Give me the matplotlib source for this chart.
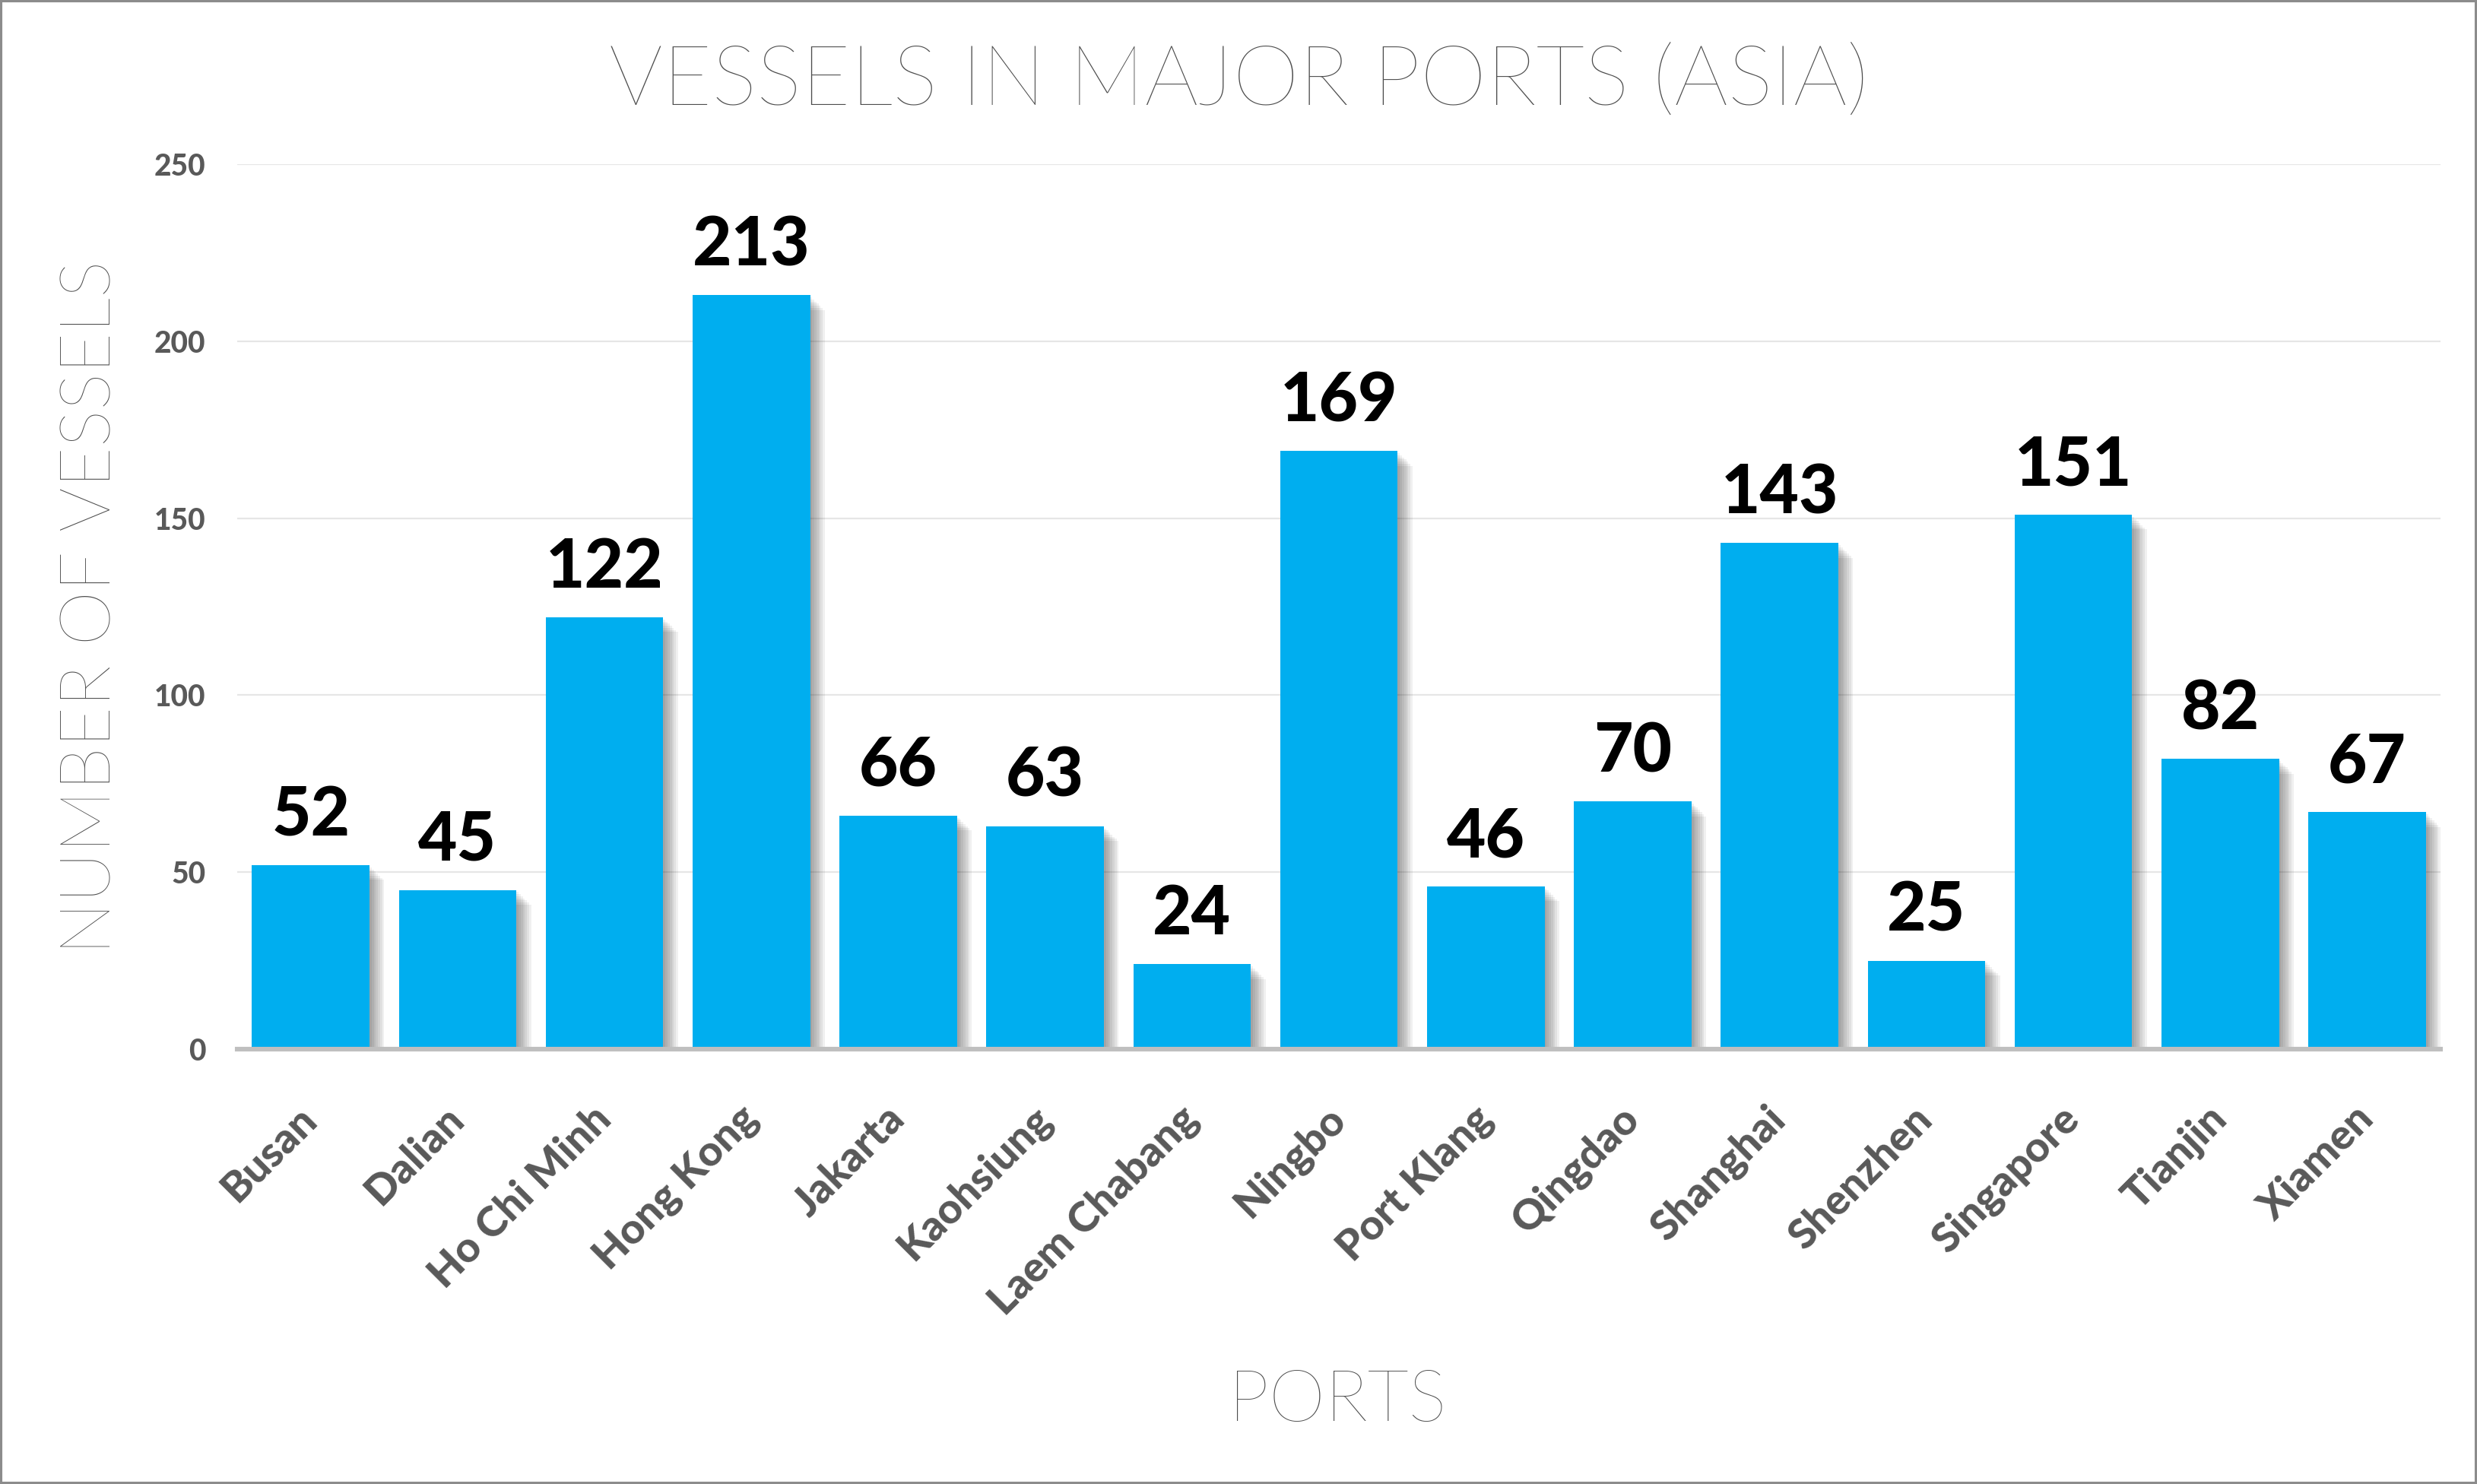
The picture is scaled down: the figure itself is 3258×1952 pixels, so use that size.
import matplotlib.pyplot as plt
import matplotlib.patheffects as pe
from matplotlib.patches import Rectangle

ports = ["Busan", "Dalian", "Ho Chi Minh", "Hong Kong", "Jakarta", "Kaohsiung",
         "Laem Chabang", "Ningbo", "Port Klang", "Qingdao", "Shanghai",
         "Shenzhen", "Singapore", "Tianjin", "Xiamen"]
vessels = [52, 45, 122, 213, 66, 63, 24, 169, 46, 70, 143, 25, 151, 82, 67]
y_ticks = [0, 50, 100, 150, 200, 250]

plt.rcParams['font.family'] = ['Lato', 'DejaVu Sans']
gray = '#595959'
light_gray = '#4d4d4d'

fig = plt.figure(figsize=(16.29, 9.76), dpi=200)
ax = fig.add_axes([0.0958, 0.293, 0.8895, 0.5963])

# soft drop shadow: stack of faint offset copies
shadow = [pe.SimplePatchShadow(offset=(k, -k), shadow_rgbFace='black', alpha=0.06)
          for k in range(1, 8)]
x = list(range(len(ports)))
ax.bar(x, vessels, width=0.8, color='#00aeef', zorder=3,
       path_effects=shadow + [pe.Normal()])

for i, v in zip(x, vessels):
    ax.annotate(str(v), (i, v), xytext=(0, 14), textcoords='offset points',
                ha='center', va='baseline', fontsize=32, fontweight='black',
                color='black', zorder=5)

ax.set_xlim(-0.5, len(ports) - 0.5)
ax.set_ylim(0, 250)
ax.set_yticks(y_ticks)
ax.set_yticklabels([str(t) for t in y_ticks], fontsize=14, fontweight='black', color=gray)
ax.set_xticks(x)
ax.set_xticklabels(ports, rotation=45, ha='right', va='center', rotation_mode='anchor',
                   fontsize=20, fontweight='black', color=gray)
ax.tick_params(axis='y', length=0, pad=15)
ax.tick_params(axis='x', length=0, pad=30)

ax.grid(axis='y', color='#e6e6e6', linewidth=0.8)
ax.set_axisbelow(True)
for s in ['top', 'right', 'left']:
    ax.spines[s].set_visible(False)
ax.spines['bottom'].set_color('#bfbfbf')
ax.spines['bottom'].set_linewidth(2.2)
ax.spines['bottom'].set_zorder(4)

fig.text(0.5, 0.945, "VESSELS IN MAJOR PORTS (ASIA)", ha='center', va='center',
         fontsize=40, fontweight='light', color=light_gray)
fig.text(0.540, 0.0558, "PORTS", ha='center', va='center',
         fontsize=34, fontweight='light', color=light_gray)
fig.text(0.037, 0.591, "NUMBER OF VESSELS", ha='center', va='center', rotation=90,
         fontsize=33, fontweight='light', color=light_gray)

fig.add_artist(Rectangle((0, 0), 1, 1, transform=fig.transFigure, fill=False,
                         edgecolor='#8c8c8c', linewidth=2.2))

fig.savefig('out.png', dpi=200)
